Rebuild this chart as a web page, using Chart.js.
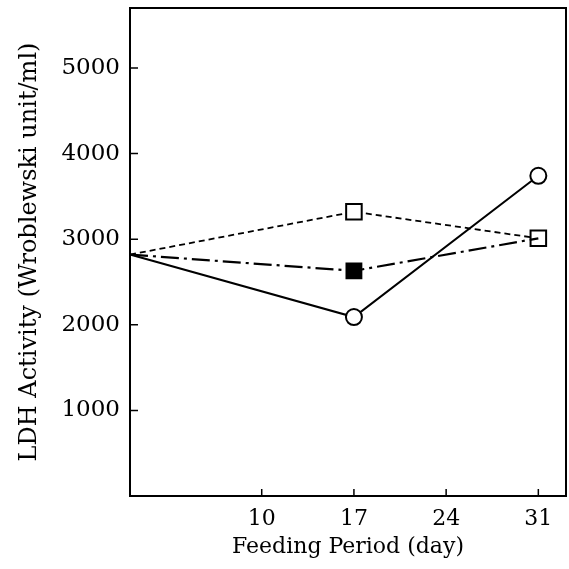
<!DOCTYPE html>
<html>
<head>
<meta charset="utf-8">
<script src="https://cdn.jsdelivr.net/npm/chart.js@4/dist/chart.umd.min.js"></script>
<style>
  html, body { margin: 0; padding: 0; background: #fff; }
  #wrap { width: 569px; height: 569px; }
</style>
</head>
<body>
<div id="wrap"><canvas id="myChart" width="569" height="569"></canvas></div>
<script>
// feeding period (day) and LDH activity values
const days = [0, 17, 31];
const solidCircle = [2820, 2090, 3740];
const dashedSquare = [2820, 3320, 3010];
const dashDotFilled = [2820, 2630, 3010];
const xTicks = [10, 17, 24, 31];
const yTicks = [1000, 2000, 3000, 4000, 5000];

const font = 'DejaVu Serif';

function pts(vals) {
    return days.map((d, i) => ({ x: d, y: vals[i] }));
}

// box around the plot and inward tick marks
const frame = {
    id: 'frame',
    afterDraw(chart) {
        const ctx = chart.ctx;
        const a = chart.chartArea;
        const xs = chart.scales.x, ys = chart.scales.y;
        ctx.save();
        ctx.strokeStyle = '#000';
        ctx.lineWidth = 2;
        ctx.strokeRect(a.left, a.top, a.right - a.left, a.bottom - a.top);
        ctx.lineWidth = 1.5;
        ctx.beginPath();
        xTicks.forEach(t => {
            const px = xs.getPixelForValue(t);
            ctx.moveTo(px, a.bottom);
            ctx.lineTo(px, a.bottom - 7);
        });
        yTicks.forEach(t => {
            const py = ys.getPixelForValue(t);
            ctx.moveTo(a.left, py);
            ctx.lineTo(a.left + 8, py);
        });
        ctx.stroke();
        ctx.restore();
    }
};

const ctx = document.getElementById('myChart').getContext('2d');
const myChart = new Chart(ctx, {
    type: 'line',
    data: {
        datasets: [{
            label: 'solid',
            data: pts(solidCircle),
            borderColor: '#000',
            borderWidth: 2,
            pointStyle: 'circle',
            pointRadius: [0, 8, 8],
            pointBackgroundColor: '#fff',
            pointBorderColor: '#000',
            pointBorderWidth: 2,
            tension: 0,
            clip: false
        }, {
            label: 'dash-dot',
            data: pts(dashDotFilled),
            borderColor: '#000',
            borderWidth: 2.2,
            borderDash: [18, 5, 3, 5],
            pointStyle: 'rect',
            pointRadius: [0, 10.5, 0],
            pointBackgroundColor: '#000',
            pointBorderColor: '#000',
            pointBorderWidth: 2,
            tension: 0,
            clip: false
        }, {
            label: 'dashed',
            data: pts(dashedSquare),
            borderColor: '#000',
            borderWidth: 1.8,
            borderDash: [6, 4],
            pointStyle: 'rect',
            pointRadius: [0, 11, 11],
            pointBackgroundColor: '#fff',
            pointBorderColor: '#000',
            pointBorderWidth: 2,
            tension: 0,
            clip: false
        }]
    },
    options: {
        responsive: false,
        animation: false,
        layout: { autoPadding: false, padding: { top: 8, right: 3, left: 0, bottom: 0 } },
        plugins: { legend: { display: false }, tooltip: { enabled: false } },
        scales: {
            x: {
                type: 'linear',
                min: 0,
                max: 33.1,
                afterBuildTicks: s => { s.ticks = xTicks.map(v => ({ value: v })); },
                afterFit: s => { s.height = 73; s.paddingLeft = 0; s.paddingRight = 0; },
                grid: { display: false, drawTicks: false },
                border: { display: false },
                ticks: { color: '#000', padding: 10, font: { family: font, size: 22 }, callback: v => String(v) },
                title: {
                    display: true,
                    text: 'Feeding Period (day)',
                    color: '#000',
                    font: { family: font, size: 22 },
                    padding: { top: 4, bottom: 9 }
                }
            },
            y: {
                min: 0,
                max: 5700,
                afterBuildTicks: s => { s.ticks = yTicks.map(v => ({ value: v })); },
                afterFit: s => { s.width = 130; s.paddingTop = 0; s.paddingBottom = 0; },
                grid: { display: false, drawTicks: false },
                border: { display: false },
                ticks: { color: '#000', padding: 10, font: { family: font, size: 23 }, callback: v => String(v) },
                title: {
                    display: true,
                    text: 'LDH Activity (Wroblewski unit/ml)',
                    color: '#000',
                    font: { family: font, size: 24 },
                    padding: { top: 15, bottom: 4 }
                }
            }
        }
    },
    plugins: [frame]
});
</script>
</body>
</html>
